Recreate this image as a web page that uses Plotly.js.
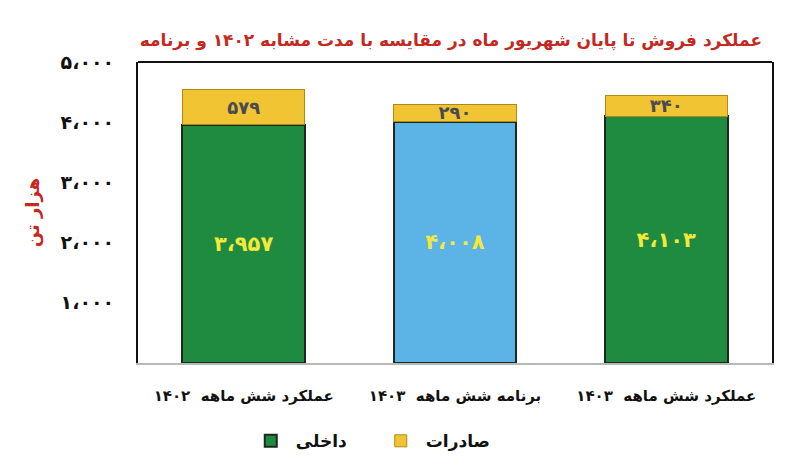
<!DOCTYPE html>
<html>
<head>
<meta charset="utf-8">
<script src="https://cdn.plot.ly/plotly-3.0.1.min.js"></script>
<style>html,body{margin:0;padding:0;background:#fff;}#chart{width:798px;height:473px;}</style>
</head>
<body>
<div id="chart"></div>
<script>
const categories = ["عملکرد شش ماهه  ۱۴۰۲", "برنامه شش ماهه  ۱۴۰۳", "عملکرد شش ماهه  ۱۴۰۳"];
const domestic = [3957, 4008, 4103];
const domesticLabels = ["۳،۹۵۷", "۴،۰۰۸", "۴،۱۰۳"];
const exportsV = [579, 290, 340];
const exportLabels = ["۵۷۹", "۲۹۰", "۳۴۰"];
const tickVals = [1000, 2000, 3000, 4000, 5000];
const tickLabels = ["۱،۰۰۰", "۲،۰۰۰", "۳،۰۰۰", "۴،۰۰۰", "۵،۰۰۰"];
const seriesNames = ["داخلی", "صادرات"];

const F = "DejaVu Sans, sans-serif";
const green = "#1f8b40", blue = "#5cb4e6", gold = "#f1c433";

const traces = [
  {
    type: "bar", x: categories, y: domestic, name: seriesNames[0],
    text: domesticLabels, textposition: "inside", insidetextanchor: "middle",
    textangle: 0, constraintext: "none",
    textfont: {family: F, size: 21, color: "#f4e83a", weight: "bold"},
    marker: {color: [green, blue, green], line: {color: "#1b2a1e", width: 2}},
    width: 0.58, hoverinfo: "skip"
  },
  {
    type: "bar", x: categories, y: exportsV, name: seriesNames[1],
    text: exportLabels, textposition: "inside", insidetextanchor: "middle",
    textangle: 0, constraintext: "none",
    textfont: {family: F, size: 18, color: "#4a4a52", weight: "bold"},
    marker: {color: gold, line: {color: "#b08a10", width: 1}},
    width: 0.58, hoverinfo: "skip"
  }
];

const layout = {
  width: 798, height: 473,
  margin: {l: 138, r: 26, t: 62, b: 110},
  paper_bgcolor: "#fff", plot_bgcolor: "#fff",
  barmode: "stack",
  showlegend: true,
  title: {
    text: "عملکرد فروش تا پایان شهریور ماه در مقایسه با مدت مشابه ۱۴۰۲ و برنامه",
    font: {family: F, size: 17, color: "#c4281f", weight: "bold"},
    x: 0.565, xanchor: "center", y: 0.915, yanchor: "middle"
  },
  xaxis: {
    showline: true, linecolor: "#b8b8b8", linewidth: 1.5,
    ticks: "", showgrid: false,
    tickfont: {family: F, size: 15, color: "#111", weight: "bold"},
    ticklabelstandoff: 18
  },
  yaxis: {
    range: [0, 5000], tickvals: tickVals, ticktext: tickLabels,
    showgrid: false, zeroline: false, ticks: "",
    showline: true, mirror: true, linecolor: "#111", linewidth: 2,
    tickfont: {family: F, size: 19, color: "#111", weight: "bold"},
    ticklabelstandoff: 18,
    title: {text: "هزار تن", font: {family: F, size: 18, color: "#c4281f", weight: "bold"}, standoff: 16}
  },
  legend: {
    orientation: "h", x: 0.375, xanchor: "center", y: -0.26, yanchor: "middle",
    traceorder: "normal",
    font: {family: F, size: 17, color: "#111", weight: "bold"},
    itemwidth: 40, entrywidth: 75
  },
  shapes: [
    {type: "line", xref: "paper", yref: "paper", x0: 0, x1: 1, y0: 1, y1: 1, line: {color: "#111", width: 2}}
  ]
};

Plotly.newPlot("chart", traces, layout, {displayModeBar: false, staticPlot: true});
</script>
</body>
</html>
